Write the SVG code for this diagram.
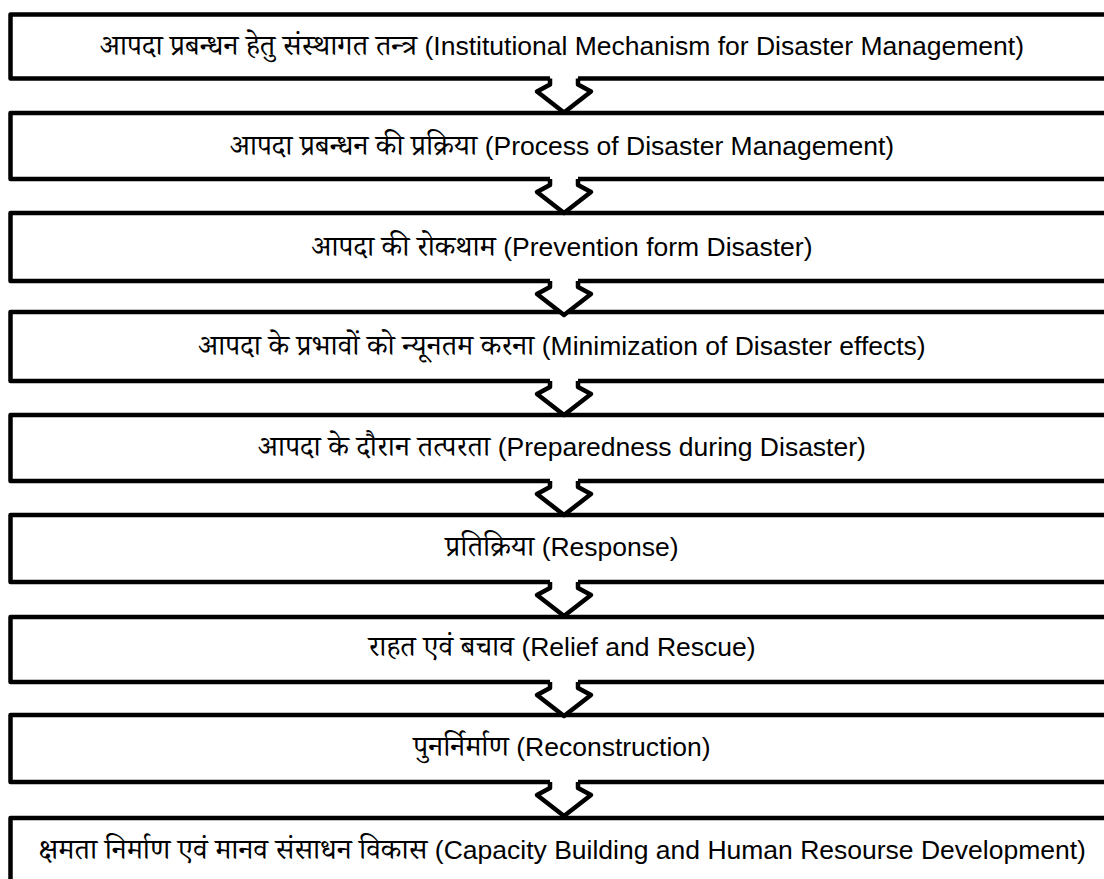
<svg xmlns="http://www.w3.org/2000/svg" xmlns:xlink="http://www.w3.org/1999/xlink" width="1104" height="879" viewBox="0 0 1104 879">
<style>
.box{fill:#fff;stroke:#000;stroke-width:4.5;stroke-linejoin:round}
.lbl{font-family:"Noto Serif Devanagari","Noto Sans Devanagari","Lohit Devanagari","Liberation Sans",sans-serif;font-size:29px;fill:#000;text-anchor:middle}
.en{font-family:"Liberation Sans",Arial,sans-serif;font-size:26.5px}
.afill{fill:#fff;stroke:none}
.aline{fill:none;stroke:#000;stroke-width:4.5;stroke-linejoin:round}
</style>
<defs>
<g id="arr">
<path class="afill" d="M-14 -3 L-14 6 L-27 13 L0 34 L27 13 L14 6 L14 -3 Z"/>
<path class="aline" d="M-14 0 L-14 6 L-27 13 L0 34 L27 13 L14 6 L14 0"/>
</g>
</defs>
<rect width="1104" height="879" fill="#fff"/>
<g id="n1"><rect class="box" x="10.5" y="14.5" width="1110" height="64"/><text class="lbl" x="562" y="55">आपदा प्रबन्धन हेतु संस्थागत तन्त्र <tspan class="en">(Institutional Mechanism for Disaster Management)</tspan></text></g>
<g id="n2"><rect class="box" x="10.5" y="113" width="1110" height="66"/><text class="lbl" x="562" y="155">आपदा प्रबन्धन की प्रक्रिया <tspan class="en">(Process of Disaster Management)</tspan></text></g>
<g id="n3"><rect class="box" x="10.5" y="213" width="1110" height="68"/><text class="lbl" x="562" y="256">आपदा की रोकथाम <tspan class="en">(Prevention form Disaster)</tspan></text></g>
<g id="n4"><rect class="box" x="10.5" y="312" width="1110" height="69"/><text class="lbl" x="562" y="355">आपदा के प्रभावों को न्यूनतम करना <tspan class="en">(Minimization of Disaster effects)</tspan></text></g>
<g id="n5"><rect class="box" x="10.5" y="415" width="1110" height="66"/><text class="lbl" x="562" y="456">आपदा के दौरान तत्परता <tspan class="en">(Preparedness during Disaster)</tspan></text></g>
<g id="n6"><rect class="box" x="10.5" y="515" width="1110" height="67"/><text class="lbl" x="562" y="556">प्रतिक्रिया <tspan class="en">(Response)</tspan></text></g>
<g id="n7"><rect class="box" x="10.5" y="617" width="1110" height="65"/><text class="lbl" x="562" y="656">राहत एवं बचाव <tspan class="en">(Relief and Rescue)</tspan></text></g>
<g id="n8"><rect class="box" x="10.5" y="715" width="1110" height="67"/><text class="lbl" x="562" y="756">पुनर्निर्माण <tspan class="en">(Reconstruction)</tspan></text></g>
<g id="n9"><rect class="box" x="10.5" y="818" width="1110" height="80"/><text class="lbl" x="562" y="859">क्षमता निर्माण एवं मानव संसाधन विकास <tspan class="en">(Capacity Building and Human Resourse Development)</tspan></text></g>
<g id="connectors">
<use xlink:href="#arr" href="#arr" transform="translate(564,78.5)"/>
<use xlink:href="#arr" href="#arr" transform="translate(564,179)"/>
<use xlink:href="#arr" href="#arr" transform="translate(564,281)"/>
<use xlink:href="#arr" href="#arr" transform="translate(564,381)"/>
<use xlink:href="#arr" href="#arr" transform="translate(564,481)"/>
<use xlink:href="#arr" href="#arr" transform="translate(564,582)"/>
<use xlink:href="#arr" href="#arr" transform="translate(564,682)"/>
<use xlink:href="#arr" href="#arr" transform="translate(564,782)"/>
</g>
</svg>
